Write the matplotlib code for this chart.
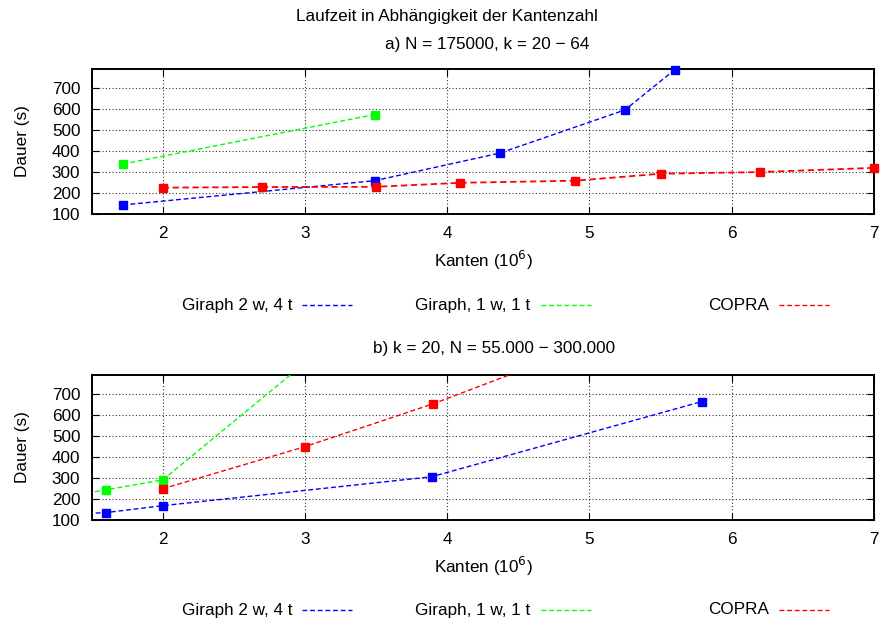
import numpy as np
import matplotlib
matplotlib.use("Agg")
import matplotlib.pyplot as plt
from matplotlib.lines import Line2D

plt.rcParams['font.family'] = ['Liberation Sans', 'DejaVu Sans']
plt.rcParams['font.size'] = 12

# ---------------- data ----------------
title_main = "Laufzeit in Abhängigkeit der Kantenzahl"
title_a = "a) N = 175000, k = 20 \u2212 64"
title_b = "b) k = 20, N = 55.000 \u2212 300.000"
xlabel = "Kanten (10$^6$)"
ylabel = "Dauer (s)"
series_names = ["Giraph 2 w, 4 t", "Giraph, 1 w, 1 t", "COPRA"]
series_colors = ["#0000ff", "#00ff00", "#ff0000"]
x_ticks = [2, 3, 4, 5, 6, 7]
y_ticks = [100, 200, 300, 400, 500, 600, 700]

# panel a
a_blue_x = [1.72, 3.49, 4.37, 5.25, 5.60]
a_blue_y = [143, 258, 389, 594, 785]
a_green_x = [1.72, 3.49]
a_green_y = [337, 572]
a_red_x = [2.0, 2.70, 3.50, 4.09, 4.90, 5.50, 6.20, 7.0]
a_red_y = [225, 228, 229, 248, 258, 291, 299, 319]

# panel b
b_blue_x = [1.10, 1.60, 2.0, 3.89, 5.79]
b_blue_y = [120, 135, 168, 305, 662]
b_green_x = [1.10, 1.60, 2.0, 3.0]
b_green_y = [185, 243, 290, 845]
b_red_x = [2.0, 3.0, 3.90, 5.80]
b_red_y = [248, 448, 651, 1137]

XLIM = (1.5, 7.0)
YLIM = (100, 788)
FS = 12.3

W, H = 883, 626
fig = plt.figure(figsize=(W / 100, H / 100), dpi=100)


def fx(px):
    return px / W


def fy(py):
    return 1 - py / H


def make_axes(top_px, bottom_px):
    left, right = 91.5, 874
    ax = fig.add_axes([fx(left), fy(bottom_px), (right - left) / W, (bottom_px - top_px) / H])
    ax.set_xlim(*XLIM)
    ax.set_ylim(*YLIM)
    ax.set_xticks(x_ticks)
    ax.set_yticks(y_ticks)
    ax.tick_params(direction='in', length=5, width=0.8, top=True, right=True,
                   labelsize=FS, pad=8)
    ax.tick_params(axis='x', pad=9)
    ax.grid(True, color='black', linestyle=(0, (1, 2)), linewidth=0.8, alpha=0.8)
    for s in ax.spines.values():
        s.set_linewidth(1.4)
    yc = (top_px + bottom_px) / 2
    fig.text(fx(22), fy(yc), ylabel, rotation=90, ha='center', va='center', fontsize=FS)
    fig.text(fx(483), fy(bottom_px + 46), xlabel, ha='center', va='center', fontsize=FS)
    return ax


def draw_series(ax, xs, ys, color, lw=1.0):
    ax.plot(xs, ys, linestyle=(0, (3.5, 2)), color=color, linewidth=lw, zorder=3)
    xs = np.asarray(xs)
    ys = np.asarray(ys)
    m = (xs >= XLIM[0] - 1e-9) & (xs <= XLIM[1] + 1e-9) & (ys >= YLIM[0]) & (ys <= YLIM[1])
    ax.plot(xs[m], ys[m], linestyle='none', marker='s', markersize=5.2,
            color=color, clip_on=False, zorder=4)


def draw_legend(y_px):
    for i, (name, col) in enumerate(zip(series_names, series_colors)):
        xe = 292 + 238.5 * i
        fig.text(fx(xe), fy(y_px), name, ha='right', va='center', fontsize=FS)
        fig.add_artist(Line2D([fx(xe + 10), fx(xe + 60)], [fy(y_px), fy(y_px)],
                              transform=fig.transFigure, color=col,
                              linestyle=(0, (3.5, 2)), linewidth=1.0))


fig.text(fx(447), fy(17), title_main, ha='center', va='center', fontsize=FS)
fig.text(fx(487), fy(45), title_a, ha='center', va='center', fontsize=FS)
fig.text(fx(494), fy(349), title_b, ha='center', va='center', fontsize=FS)

ax_a = make_axes(69, 214)
draw_series(ax_a, a_blue_x, a_blue_y, series_colors[0])
draw_series(ax_a, a_green_x, a_green_y, series_colors[1])
draw_series(ax_a, a_red_x, a_red_y, series_colors[2], lw=1.3)
draw_legend(305)

ax_b = make_axes(375, 520)
draw_series(ax_b, b_blue_x, b_blue_y, series_colors[0])
draw_series(ax_b, b_green_x, b_green_y, series_colors[1])
draw_series(ax_b, b_red_x, b_red_y, series_colors[2])
draw_legend(610)

fig.savefig("out.png", dpi=100)
